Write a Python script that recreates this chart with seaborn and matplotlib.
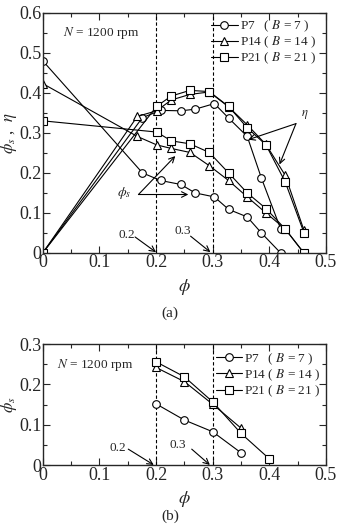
import numpy as np
import pandas as pd
import matplotlib
matplotlib.use('Agg')
import matplotlib.pyplot as plt
import seaborn as sns
from matplotlib.ticker import MultipleLocator, FuncFormatter

# ---- data ----
# panel (a): phi_s and eta vs phi
p7_phi = [0, 0.176, 0.208, 0.244, 0.269, 0.303, 0.328, 0.361, 0.386, 0.42]
p7_phis = [0.48, 0.2, 0.181, 0.171, 0.15, 0.14, 0.109, 0.09, 0.05, 0.0]
p7_eta = [0.0, 0.338, 0.356, 0.355, 0.359, 0.373, 0.337, 0.291, 0.187, 0.06]

p14_phi = [0, 0.167, 0.201, 0.227, 0.26, 0.294, 0.328, 0.361, 0.394, 0.428, 0.461]
p14_phis = [0.423, 0.291, 0.27, 0.261, 0.251, 0.218, 0.181, 0.14, 0.1, 0.06, 0.0]
p14_eta = [0.0, 0.341, 0.355, 0.382, 0.396, 0.402, 0.365, 0.32, 0.271, 0.194, 0.057]

p21_phi = [0, 0.201, 0.227, 0.26, 0.294, 0.328, 0.361, 0.394, 0.428, 0.461]
p21_phis = [0.33, 0.302, 0.28, 0.2725, 0.251, 0.2, 0.15, 0.111, 0.06, 0.0]
p21_eta = [0.0, 0.366, 0.392, 0.406, 0.403, 0.366, 0.3125, 0.27, 0.1775, 0.051]

# panel (b): phi_s vs phi
p7_phi_b = [0.2, 0.25, 0.3, 0.35]
p7_phis_b = [0.152, 0.112, 0.083, 0.031]
p14_phi_b = [0.2, 0.25, 0.3, 0.35]
p14_phis_b = [0.242, 0.207, 0.151, 0.092]
p21_phi_b = [0.2, 0.25, 0.3, 0.35, 0.4]
p21_phis_b = [0.256, 0.219, 0.157, 0.079, 0.016]

labels = ['P7   ( $B$ = 7 )', 'P14 ( $B$ = 14 )', 'P21 ( $B$ = 21 )']
markers = ['o', '^', 's']

sns.set_style('ticks')
plt.rcParams['font.family'] = ['Liberation Serif', 'DejaVu Serif']
plt.rcParams['mathtext.fontset'] = 'stix'
plt.rcParams['xtick.direction'] = 'in'
plt.rcParams['ytick.direction'] = 'in'

fig = plt.figure(figsize=(3.4, 5.24), dpi=100)
axa = fig.add_axes([0.1256, 0.5172, 0.8332, 0.4586])
axb = fig.add_axes([0.1256, 0.112, 0.8332, 0.2315])

line_kw = dict(color='k', lw=0.8, markersize=5.5, markerfacecolor='w',
               markeredgecolor='k', markeredgewidth=0.8, sort=False, estimator=None)


def fmt(v, pos):
    return '0' if abs(v) < 1e-9 else '%.1f' % v


def style_axis(ax, ymax):
    ax.set_xlim(0, 0.5)
    ax.set_ylim(0, ymax)
    ax.xaxis.set_major_locator(MultipleLocator(0.1))
    ax.xaxis.set_minor_locator(MultipleLocator(0.05))
    ax.yaxis.set_major_locator(MultipleLocator(0.1))
    ax.yaxis.set_minor_locator(MultipleLocator(0.05))
    ax.xaxis.set_major_formatter(FuncFormatter(fmt))
    ax.yaxis.set_major_formatter(FuncFormatter(fmt))
    ax.tick_params(which='both', top=True, right=True, width=0.8)
    ax.tick_params(which='major', length=5, labelsize=13, pad=1)
    ax.tick_params(which='minor', length=3)
    for s in ax.spines.values():
        s.set_linewidth(1.0)
    ax.axvline(0.2, color='k', ls='--', lw=0.8, dashes=(3, 2))
    ax.axvline(0.3, color='k', ls='--', lw=0.8, dashes=(3, 2))


# ---- panel (a) ----
style_axis(axa, 0.6)
a_series = [(p7_phi, p7_phis, p7_eta), (p14_phi, p14_phis, p14_eta), (p21_phi, p21_phis, p21_eta)]
for (x, ps, et), m, lab in zip(a_series, markers, labels):
    sns.lineplot(x=x, y=et, ax=axa, marker=m, label=lab, **line_kw)
    sns.lineplot(x=x, y=ps, ax=axa, marker=m, label='_nolegend_', **line_kw)

axa.legend(loc='upper left', bbox_to_anchor=(0.595, 0.975), frameon=False, fontsize=9.5,
           handlelength=2.0, handletextpad=0.15, labelspacing=0.05, borderpad=0, borderaxespad=0)
axa.text(0.036, 0.55, '$N$ = 1200 rpm', fontsize=9.5, va='center')
axa.set_xlabel('$\\phi$', fontsize=13, labelpad=4)
axa.set_ylabel('$\\phi_s$ ,  $\\eta$', fontsize=12, va='center')
axa.yaxis.set_label_coords(-0.118, 0.5)

arrow = dict(arrowstyle='->', color='k', lw=0.8, shrinkA=0, shrinkB=0)
# eta arrows
axa.text(0.463, 0.345, '$\\eta$', fontsize=9, ha='center', va='center')
axa.annotate('', xy=(0.363, 0.283), xytext=(0.447, 0.323), arrowprops=arrow)
axa.annotate('', xy=(0.418, 0.221), xytext=(0.447, 0.323), arrowprops=arrow)
# phi_s arrows
axa.text(0.144, 0.15, '$\\phi_s$', fontsize=10, ha='center', va='center')
axa.annotate('', xy=(0.234, 0.242), xytext=(0.169, 0.146), arrowprops=arrow)
axa.annotate('', xy=(0.257, 0.146), xytext=(0.169, 0.146), arrowprops=arrow)
# 0.2 / 0.3 markers
axa.text(0.148, 0.046, '0.2', fontsize=9.5, ha='center', va='center')
axa.annotate('', xy=(0.2, 0.002), xytext=(0.163, 0.04), arrowprops=arrow)
axa.text(0.247, 0.054, '0.3', fontsize=9.5, ha='center', va='center')
axa.annotate('', xy=(0.296, 0.002), xytext=(0.261, 0.042), arrowprops=arrow)

# ---- panel (b) ----
style_axis(axb, 0.3)
b_series = [(p7_phi_b, p7_phis_b), (p14_phi_b, p14_phis_b), (p21_phi_b, p21_phis_b)]
for (x, ps), m, lab in zip(b_series, markers, labels):
    sns.lineplot(x=x, y=ps, ax=axb, marker=m, label=lab, **line_kw)

axb.legend(loc='upper left', bbox_to_anchor=(0.61, 0.94), frameon=False, fontsize=9.5,
           handlelength=2.0, handletextpad=0.15, labelspacing=0.05, borderpad=0, borderaxespad=0)
axb.text(0.025, 0.248, '$N$ = 1200 rpm', fontsize=9.5, va='center')
axb.set_xlabel('$\\phi$', fontsize=13, labelpad=4)
axb.set_ylabel('$\\phi_s$', fontsize=12, va='center')
axb.yaxis.set_label_coords(-0.118, 0.5)
axb.text(0.133, 0.042, '0.2', fontsize=9.5, ha='center', va='center')
axb.annotate('', xy=(0.196, 0.001), xytext=(0.151, 0.04), arrowprops=arrow)
axb.text(0.239, 0.05, '0.3', fontsize=9.5, ha='center', va='center')
axb.annotate('', xy=(0.295, 0.001), xytext=(0.263, 0.04), arrowprops=arrow)

fig.text(0.5, 1 - 313 / 524, '(a)', fontsize=11, ha='center', va='center')
fig.text(0.5, 1 - 516 / 524, '(b)', fontsize=11, ha='center', va='center')

fig.savefig('out.png', dpi=100)
